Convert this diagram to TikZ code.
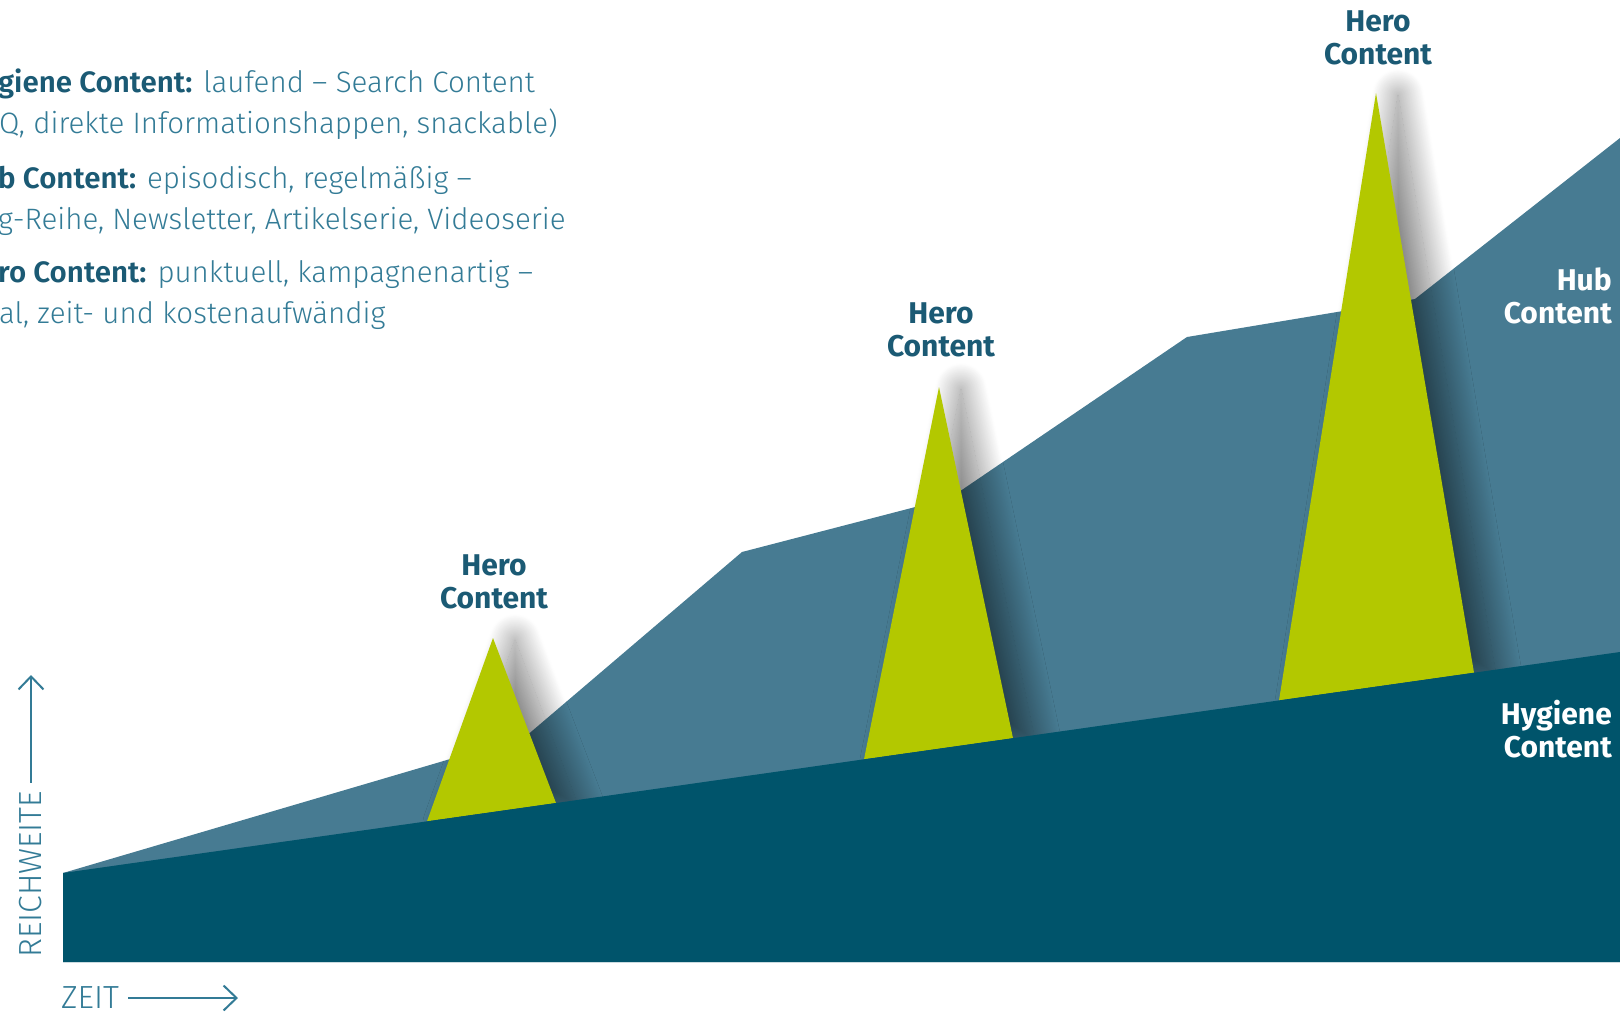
\documentclass[tikz,border=0pt]{standalone}
\usepackage{fontspec}
\setmainfont{Fira Sans}
\newfontfamily\lightfont{Fira Sans Light}
\usetikzlibrary{arrows.meta, shadows.blur}
\definecolor{HygieneBlue}{HTML}{00546B}
\definecolor{HubBlue}{HTML}{477B92}
\definecolor{HeroGreen}{HTML}{B3C800}
\definecolor{DarkText}{HTML}{1B5A74}
\definecolor{LightText}{HTML}{337B96}

\begin{document}
\begin{tikzpicture}[x = 1pt, y = -1pt]
\tikzstyle{HeroStyle}=[fill = HeroGreen,
                       blur shadow = {shadow xshift = 22pt, shadow yshift = -2pt,
                                      shadow blur radius = 26pt, shadow blur steps = 50,
                                      shadow opacity = 50}]
\tikzstyle{LabelStyle}=[align = center, inner sep = 0pt, text = DarkText,
                        font = \fontsize{30}{33}\selectfont\bfseries]
\tikzstyle{AreaLabelStyle}=[align = right, anchor = east, inner sep = 0pt, text = white,
                            font = \fontsize{30}{33}\selectfont\bfseries]
\tikzstyle{LegendStyle}=[anchor = mid west, inner sep = 0pt, text = LightText,
                         font = \fontsize{29.5}{34}\selectfont\lightfont]
\tikzstyle{AxisLabelStyle}=[inner sep = 0pt, text = LightText,
                            font = \fontsize{32}{36}\selectfont\lightfont]
\tikzstyle{AxisStyle}=[draw = LightText, line width = 2pt,
                       -{Straight Barb[length = 13pt, width = 25pt]}]
\useasboundingbox (0, 0) rectangle (1620, 1014);
\fill[HubBlue] (63, 873) -- (525, 737) -- (742, 552) -- (950, 498) -- (1187, 337)
   -- (1415, 299) -- (1620, 138) -- (1620, 962) -- (63, 962) -- cycle;
\fill[HeroStyle] (427, 821.3) -- (493, 638) -- (556, 803) -- cycle;
\fill[HeroStyle] (864, 759.3) -- (939, 387) -- (1013, 738.2) -- cycle;
\fill[HeroStyle] (1279, 700.4) -- (1376, 93) -- (1474, 672.7) -- cycle;
\fill[HygieneBlue] (63, 873) -- (1620, 652) -- (1620, 962) -- (63, 962) -- cycle;
\node[LabelStyle] (heroa) at (494, 582) {Hero\\Content};
\node[LabelStyle] (herob) at (941, 330) {Hero\\Content};
\node[LabelStyle] (heroc) at (1378, 38) {Hero\\Content};
\node[AreaLabelStyle] (hub) at (1612, 296) {Hub\\Content};
\node[AreaLabelStyle] (hygiene) at (1612, 729) {Hygiene\\Content};
\node[LegendStyle] (legenda) at (-2, 90) {\textcolor{DarkText}{\bfseries giene Content:} laufend – Search Content};
\node[LegendStyle] (legendb) at (-1, 131) {Q, direkte Informationshappen, snackable)};
\node[LegendStyle] (legendc) at (-2, 186) {\textcolor{DarkText}{\bfseries b Content:} episodisch, regelmäßig –};
\node[LegendStyle] (legendd) at (-2, 227) {g-Reihe, Newsletter, Artikelserie, Videoserie};
\node[LegendStyle] (legende) at (-2, 280) {\textcolor{DarkText}{\bfseries ro Content:} punktuell, kampagnenartig –};
\node[LegendStyle] (legendf) at (-1, 321) {al, zeit- und kostenaufwändig};
\node[AxisLabelStyle, anchor = west] (zeit) at (61, 998) {ZEIT};
\coordinate (zeitend) at (238, 998);
\draw[AxisStyle, shorten <= 9pt] (zeit.east) -- (zeitend);
\node[AxisLabelStyle, rotate = 90, anchor = west] (reichweite) at (31, 958) {REICHWEITE};
\coordinate (reichend) at (31, 675);
\draw[AxisStyle, shorten <= 8pt] (reichweite.east) -- (reichend);
\end{tikzpicture}
\end{document}
